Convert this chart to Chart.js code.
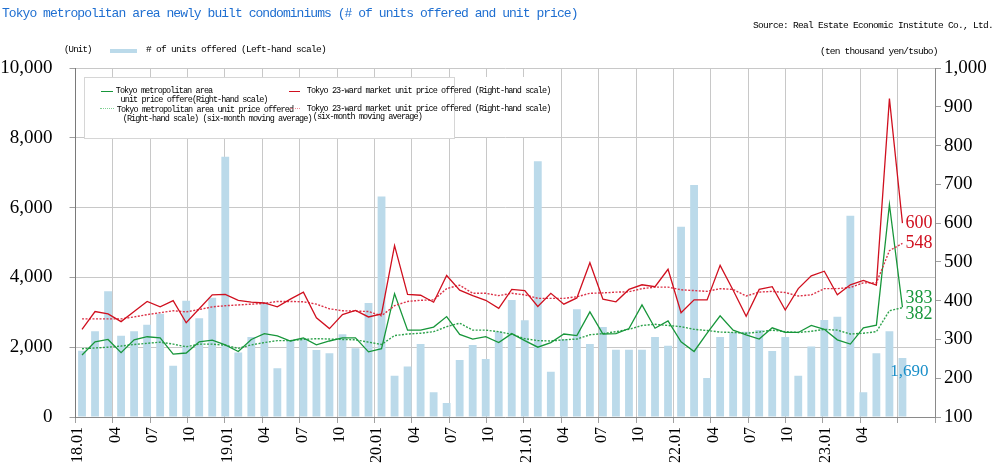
<!DOCTYPE html>
<html>
<head>
<meta charset="utf-8">
<script src="https://cdn.jsdelivr.net/npm/chart.js@4/dist/chart.umd.min.js"></script>
<style>
  html,body{margin:0;padding:0;background:#fff;}
  #wrap{position:relative;width:1000px;height:472px;overflow:hidden;background:#fff;}
  #c{position:absolute;left:0;top:0;}
  .t{position:absolute;white-space:pre;font-family:"Liberation Mono","DejaVu Sans Mono",monospace;color:#000;line-height:1;}
  .box{position:absolute;}
</style>
</head>
<body>
<div id="wrap">
  <canvas id="c" width="1000" height="472"></canvas>
</div>
<script>
// ---- categories ----
const years = ['18','19','20','21','22','23'];
const monthNums = ['01','02','03','04','05','06','07','08','09','10','11','12'];
const axisMonthCount = 66; // 18.01 .. 23.06 on the axis
const xTickLabels = ['18.01','04','07','10','19.01','04','07','10','20.01','04','07','10',
                     '21.01','04','07','10','22.01','04','07','10','23.01','04',''];

// ---- series ----
const unitsOffered = [1900,2460,3600,2330,2460,2640,2960,1470,3330,2830,3420,7460,
                      1850,2290,3290,1400,2200,2250,1920,1830,2370,1970,3270,6320,
                      1180,1450,2090,710,400,1630,2060,1660,2450,3350,2770,7330,
                      1300,2230,3090,2090,2580,1930,1930,1930,2290,2040,5450,6650,
                      1120,2290,2430,2440,2490,1890,2290,1180,2020,2780,2870,5770,
                      710,1830,2460,1690];
const wardPrice = [326,372,366,346,372,398,384,400,343,379,415,416,
                   401,396,394,384,404,422,356,328,364,375,358,366,
                   542,416,414,396,465,427,413,401,380,429,426,385,
                   419,391,407,498,404,397,429,441,436,481,369,402,
                   402,491,427,360,429,436,376,431,464,476,415,441,
                   452,440,921,600];
const wardPriceAvg = [353,353,353,353,358,364,369,374,371,377,384,387,
                      389,391,393,398,398,397,391,379,374,373,372,361,
                      387,398,401,402,431,440,419,419,413,419,415,406,
                      406,406,410,419,420,422,423,431,435,435,428,426,
                      424,431,429,412,422,424,421,412,415,431,431,434,
                      446,446,529,548];
const metroPrice = [260,294,300,266,299,307,304,262,265,294,298,286,
                    269,300,315,309,296,304,286,296,304,304,268,276,
                    418,324,324,332,359,313,301,307,292,315,297,280,
                    292,314,310,371,314,315,328,389,329,348,294,269,
                    316,361,324,312,301,330,318,318,336,326,299,288,
                    330,337,648,383];
const metroPriceAvg = [276,278,280,283,287,290,293,288,281,288,288,285,
                       277,286,292,297,297,300,302,301,300,299,293,287,
                       310,314,316,320,333,342,324,324,320,313,302,297,
                       296,299,301,312,315,320,326,336,339,336,333,326,
                       323,319,318,316,319,324,320,318,321,326,324,314,
                       316,320,374,382];

// ---- text ----
const titleText = 'Tokyo metropolitan area newly built condominiums (# of units offered and unit price)';
const sourceText = 'Source: Real Estate Economic Institute Co., Ltd.';
const leftUnit = '(Unit)';
const rightUnit = '(ten thousand yen/tsubo)';
const barLabel = '# of units offered (Left-hand scale)';
const metroLabel = ['Tokyo metropolitan area', 'unit price offere(Right-hand scale)'];
const metroAvgLabel = ['Tokyo metropolitan area unit price offered', '(Right-hand scale) (six-month moving average)'];
const wardLabel = ['Tokyo 23-ward market unit price offered (Right-hand scale)'];
const wardAvgLabel = ['Tokyo 23-ward market unit price offered (Right-hand scale)', '(six-month moving average)'];

// ---- colours ----
const barColor = '#bbdaea';
const redColor = '#d0101f';
const redAvgColor = '#dc3348';
const greenColor = '#17963a';
const greenAvgColor = '#2ea24c';

const categories = [];
for (const y of years) for (const m of monthNums) categories.push(y + '.' + m);
categories.length = axisMonthCount;

// ---- HTML texts ----
const wrap = document.getElementById('wrap');
function addText(str, left, cy, size, ls, color, opts) {
  const d = document.createElement('div');
  d.className = 't';
  d.textContent = str;
  d.style.fontSize = size + 'px';
  d.style.letterSpacing = ls + 'px';
  d.style.top = (cy - size / 2) + 'px';
  if (opts && opts.right !== undefined) d.style.right = opts.right + 'px';
  else d.style.left = left + 'px';
  if (color) d.style.color = color;
  wrap.appendChild(d);
  return d;
}
function addBox(left, top, w, h, css) {
  const d = document.createElement('div');
  d.className = 'box';
  d.style.left = left + 'px'; d.style.top = top + 'px';
  d.style.width = w + 'px'; d.style.height = h + 'px';
  Object.assign(d.style, css || {});
  wrap.appendChild(d);
  return d;
}

addText(titleText, 2, 13, 13, -0.95, '#1f6fd1');
addText(sourceText, 0, 26, 9.5, -0.7, '#000', {right: 7});
addText(leftUnit, 64, 50, 9, -0.8, '#000');
addBox(110, 49, 27, 3.5, {background: barColor});
addText(barLabel, 146, 50, 9.5, -0.7, '#000');
addText(rightUnit, 820, 52, 9.5, -0.8, '#000');

// inner legend box
addBox(84, 77, 474, 60, {background: '#fff'});
addBox(84, 77, 369, 60, {border: '1px solid #d6d6d6', background: '#fff'});
const lf = 8.5, lls = -0.9;
addBox(101, 90.5, 12, 0, {borderTop: '1.2px solid ' + greenColor});
addText(metroLabel[0], 115.7, 91, lf, lls);
addText(metroLabel[1], 120.5, 100, lf, lls);
addBox(100, 108, 14, 0, {borderTop: '1.5px dotted #7fcf92'});
addText(metroAvgLabel[0], 116.7, 110.5, lf, lls);
addText(metroAvgLabel[1], 122.7, 119, lf, lls);
addBox(289, 90.5, 11, 0, {borderTop: '1.2px solid ' + redColor});
addText(wardLabel[0], 306.7, 91.5, lf, lls);
addBox(290, 108, 10, 0, {borderTop: '1.5px dotted #ee8a96'});
addText(wardAvgLabel[0], 306.7, 109, lf, lls);
addText(wardAvgLabel[1], 312.7, 117.5, lf, lls);

// ---- end-of-series labels ----
const endLabels = [
  {ds: 0, color: redColor, dx: 3, dy: 0, align: 'left', size: 18},
  {ds: 1, color: redColor, dx: 3, dy: 0, align: 'left', size: 18},
  {ds: 2, color: greenColor, dx: 3, dy: -8.5, align: 'left', size: 18},
  {ds: 3, color: greenColor, dx: 3, dy: 7, align: 'left', size: 18},
  {ds: 4, color: '#1a8fc9', dx: 7, dy: 14, align: 'center', size: 17}
];
const endLabelPlugin = {
  id: 'endLabels',
  afterDatasetsDraw(chart) {
    const ctx = chart.ctx;
    ctx.save();
    for (const e of endLabels) {
      const ds = chart.data.datasets[e.ds];
      const meta = chart.getDatasetMeta(e.ds);
      const idx = ds.data.length - 1;
      const el = meta.data[idx];
      ctx.font = e.size + 'px "Liberation Serif", serif';
      ctx.fillStyle = e.color;
      ctx.textAlign = e.align;
      ctx.textBaseline = 'middle';
      ctx.fillText(ds.data[idx].toLocaleString('en-US'), el.x + e.dx, el.y + e.dy);
    }
    ctx.restore();
  }
};

const serif = '"Liberation Serif", "DejaVu Serif", serif';
new Chart(document.getElementById('c'), {
  type: 'bar',
  data: {
    labels: categories,
    datasets: [
      {type: 'line', label: wardLabel.join(' '), data: wardPrice, yAxisID: 'y1', xAxisID: 'x',
       borderColor: redColor, borderWidth: 1.3, pointRadius: 0, tension: 0, order: 1},
      {type: 'line', label: wardAvgLabel.join(' '), data: wardPriceAvg, yAxisID: 'y1', xAxisID: 'x',
       borderColor: redAvgColor, borderWidth: 1.4, borderDash: [2, 1.5], pointRadius: 0, tension: 0, order: 2},
      {type: 'line', label: metroLabel.join(' '), data: metroPrice, yAxisID: 'y1', xAxisID: 'x',
       borderColor: greenColor, borderWidth: 1.3, pointRadius: 0, tension: 0, order: 3},
      {type: 'line', label: metroAvgLabel.join(' '), data: metroPriceAvg, yAxisID: 'y1', xAxisID: 'x',
       borderColor: greenAvgColor, borderWidth: 1.4, borderDash: [2, 1.5], pointRadius: 0, tension: 0, order: 4},
      {type: 'bar', label: barLabel, data: unitsOffered, yAxisID: 'y', xAxisID: 'x',
       backgroundColor: barColor, borderWidth: 0, barPercentage: 0.6, categoryPercentage: 1, order: 10}
    ]
  },
  options: {
    responsive: false,
    animation: false,
    devicePixelRatio: 1,
    layout: {padding: {top: 68, left: 0, right: 0, bottom: 0}},
    plugins: {legend: {display: false}, tooltip: {enabled: false}},
    scales: {
      x: {type: 'category', display: false, offset: true},
      xl: {
        type: 'linear', position: 'bottom', min: 0, max: axisMonthCount,
        afterFit(s) { s.height = 55; },
        ticks: {
          stepSize: 3, autoSkip: false, maxRotation: 90, minRotation: 90, padding: 4,
          labelOffset: -16,
          color: '#000', font: {family: serif, size: 16},
          callback: (v) => xTickLabels[Math.round(v / 3)] ?? ''
        },
        grid: {color: '#c8c8c8', tickLength: 6, tickColor: '#a0a0a0', lineWidth: 1},
        border: {color: '#8a8a8a', width: 1}
      },
      y: {
        type: 'linear', position: 'left', min: 0, max: 10000,
        afterFit(s) { s.width = 75.5; },
        ticks: {
          stepSize: 2000, padding: 17, color: '#000', font: {family: serif, size: 19},
          callback: (v) => v.toLocaleString('en-US')
        },
        grid: {color: '#c8c8c8', tickLength: 6, tickColor: '#a0a0a0', lineWidth: 1},
        border: {color: '#7a7a7a', width: 1}
      },
      y1: {
        type: 'linear', position: 'right', min: 100, max: 1000,
        afterFit(s) { s.width = 65; },
        ticks: {
          stepSize: 100, padding: 3, color: '#000', font: {family: serif, size: 19},
          callback: (v) => v.toLocaleString('en-US')
        },
        grid: {drawOnChartArea: false, tickLength: 6, tickColor: '#a0a0a0'},
        border: {color: '#8a8a8a', width: 1}
      }
    }
  },
  plugins: [endLabelPlugin]
});
</script>
</body>
</html>
